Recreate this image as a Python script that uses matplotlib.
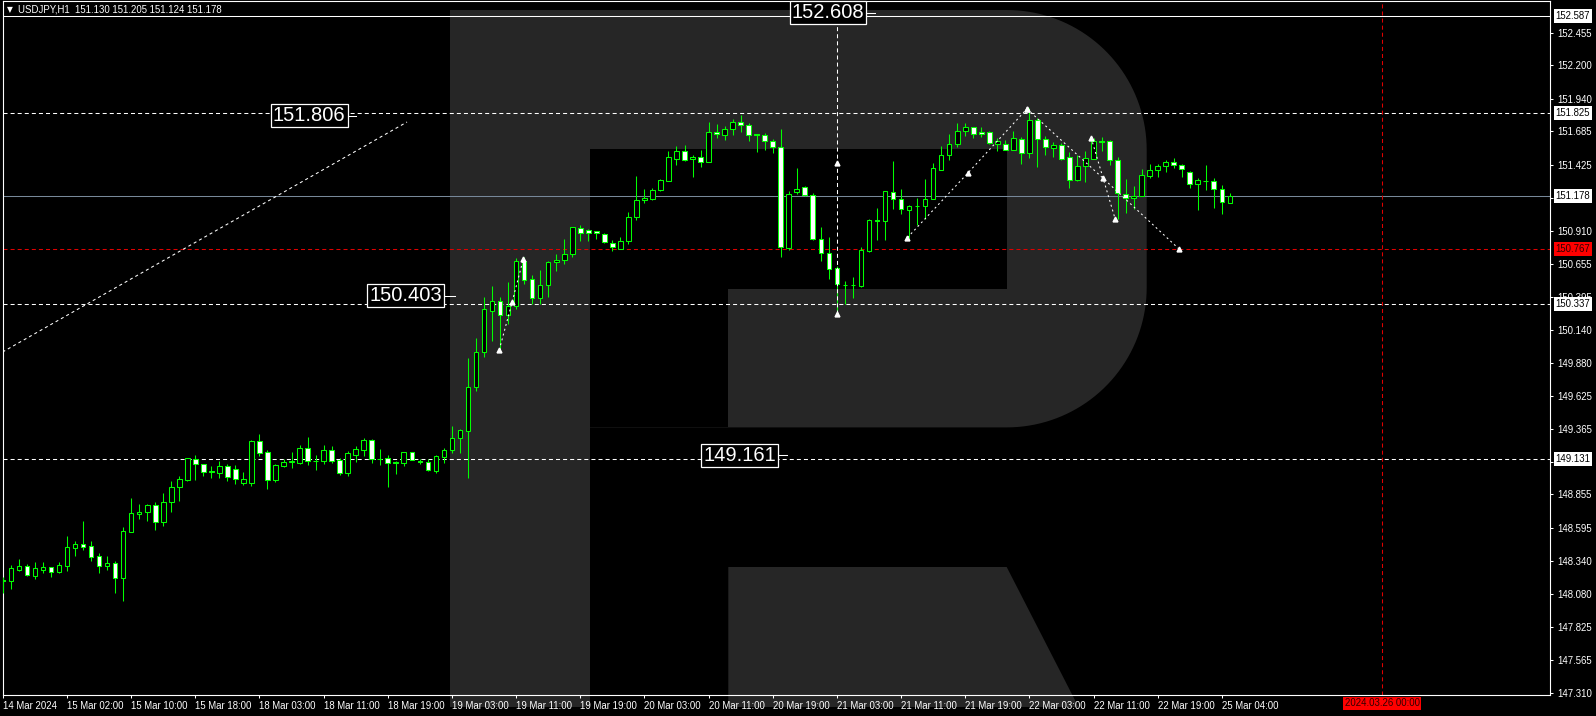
import numpy as np
import matplotlib
matplotlib.use('Agg')
import matplotlib.pyplot as plt
from matplotlib.patches import Polygon, Rectangle

plt.rcParams['lines.scale_dashes'] = False
plt.rcParams['font.family'] = ['Liberation Sans', 'DejaVu Sans']

# USDJPY H1 candles (bar 0 = 14 Mar 2024)
opens = [148.186, 148.183, 148.269, 148.298, 148.222, 148.269, 148.287, 148.253, 148.300, 148.440,
         148.466, 148.453, 148.376, 148.300, 148.321, 148.207, 148.565, 148.705, 148.721, 148.770,
         148.643, 148.794, 148.911, 148.970, 149.129, 149.090, 149.035, 149.025, 149.077, 149.051,
         148.947, 148.947, 149.269, 149.184, 148.965, 149.080, 149.106, 149.103, 149.215, 149.113,
         149.119, 149.199, 149.121, 149.025, 149.165, 149.204, 149.277, 149.132, 149.137, 149.108,
         149.103, 149.183, 149.113, 149.106, 149.035, 149.145, 149.204, 149.293, 149.352, 149.695,
         149.963, 150.288, 150.360, 150.251, 150.327, 150.672, 150.532, 150.384, 150.485, 150.665,
         150.680, 150.727, 150.932, 150.914, 150.911, 150.888, 150.818, 150.771, 150.833, 151.015,
         151.148, 151.161, 151.226, 151.301, 151.472, 151.530, 151.467, 151.483, 151.444, 151.678,
         151.660, 151.701, 151.756, 151.735, 151.662, 151.654, 151.610, 151.561, 150.779, 151.210,
         151.254, 151.187, 150.844, 150.735, 150.618, 150.490, 150.485, 150.483, 150.755, 150.992,
         150.989, 151.210, 151.161, 151.075, 151.106, 151.101, 151.155, 151.387, 151.498, 151.584,
         151.685, 151.717, 151.678, 151.678, 151.589, 151.584, 151.542, 151.626, 151.519, 151.774,
         151.626, 151.558, 151.576, 151.483, 151.303, 151.413, 151.467, 151.607, 151.607, 151.459,
         151.200, 151.163, 151.179, 151.340, 151.381, 151.413, 151.444, 151.420, 151.366, 151.272,
         151.301, 151.296, 151.239, 151.130]
highs = [148.214, 148.305, 148.352, 148.313, 148.329, 148.329, 148.287, 148.329, 148.531, 148.490,
         148.648, 148.492, 148.396, 148.376, 148.337, 148.601, 148.827, 148.781, 148.781, 148.796,
         148.867, 148.963, 148.996, 149.137, 149.163, 149.090, 149.077, 149.116, 149.092, 149.082,
         149.028, 149.280, 149.326, 149.202, 149.092, 149.129, 149.186, 149.238, 149.303, 149.160,
         149.241, 149.233, 149.137, 149.194, 149.233, 149.295, 149.287, 149.209, 149.160, 149.113,
         149.183, 149.189, 149.134, 149.129, 149.165, 149.215, 149.389, 149.363, 149.921, 150.075,
         150.394, 150.480, 150.397, 150.511, 150.696, 150.703, 150.566, 150.602, 150.678, 150.729,
         150.846, 150.942, 150.953, 150.927, 150.911, 150.891, 150.839, 150.862, 151.054, 151.337,
         151.236, 151.241, 151.317, 151.535, 151.571, 151.579, 151.501, 151.540, 151.758, 151.743,
         151.727, 151.782, 151.813, 151.748, 151.665, 151.675, 151.626, 151.701, 151.220, 151.397,
         151.259, 151.202, 150.940, 150.865, 150.639, 150.519, 150.550, 150.786, 151.002, 151.088,
         151.218, 151.454, 151.236, 151.111, 151.163, 151.314, 151.436, 151.571, 151.665, 151.750,
         151.750, 151.717, 151.722, 151.685, 151.634, 151.620, 151.688, 151.644, 151.865, 151.792,
         151.649, 151.605, 151.594, 151.524, 151.501, 151.532, 151.631, 151.639, 151.618, 151.485,
         151.314, 151.262, 151.392, 151.428, 151.428, 151.459, 151.475, 151.431, 151.374, 151.319,
         151.423, 151.324, 151.265, 151.205]
lows = [148.090, 148.118, 148.259, 148.222, 148.196, 148.243, 148.212, 148.243, 148.259, 148.378,
        148.425, 148.339, 148.246, 148.266, 148.090, 148.027, 148.565, 148.666, 148.648, 148.581,
        148.612, 148.721, 148.807, 148.960, 148.970, 149.002, 148.986, 148.986, 148.963, 148.939,
        148.931, 148.924, 149.155, 148.898, 148.955, 149.067, 149.061, 149.093, 149.085, 149.046,
        149.093, 149.100, 149.007, 148.999, 149.108, 149.158, 149.098, 149.085, 148.916, 149.017,
        149.080, 149.124, 149.093, 149.038, 149.025, 149.103, 149.181, 149.181, 148.986, 149.664,
        149.929, 150.054, 149.991, 150.184, 150.301, 150.493, 150.340, 150.340, 150.397, 150.600,
        150.651, 150.703, 150.833, 150.833, 150.849, 150.818, 150.755, 150.766, 150.807, 150.994,
        151.127, 151.150, 151.223, 151.301, 151.423, 151.454, 151.332, 151.410, 151.444, 151.636,
        151.621, 151.660, 151.683, 151.613, 151.527, 151.543, 151.519, 150.709, 150.761, 151.197,
        151.182, 150.839, 150.677, 150.535, 150.259, 150.337, 150.384, 150.475, 150.742, 150.838,
        150.838, 151.083, 151.044, 150.857, 150.958, 151.002, 151.155, 151.387, 151.465, 151.561,
        151.649, 151.636, 151.639, 151.587, 151.535, 151.537, 151.537, 151.431, 151.478, 151.410,
        151.501, 151.485, 151.465, 151.246, 151.298, 151.293, 151.467, 151.535, 151.423, 151.002,
        151.052, 151.078, 151.179, 151.324, 151.332, 151.371, 151.402, 151.332, 151.246, 151.072,
        151.228, 151.085, 151.041, 151.124]
closes = [148.183, 148.279, 148.295, 148.230, 148.279, 148.287, 148.253, 148.305, 148.446, 148.466,
          148.448, 148.370, 148.300, 148.321, 148.207, 148.570, 148.708, 148.718, 148.770, 148.643,
          148.796, 148.911, 148.973, 149.137, 149.090, 149.028, 149.033, 149.074, 148.994, 148.973,
          148.973, 149.272, 149.181, 148.965, 149.085, 149.106, 149.116, 149.215, 149.113, 149.119,
          149.199, 149.119, 149.025, 149.176, 149.207, 149.277, 149.129, 149.129, 149.098, 149.103,
          149.183, 149.126, 149.108, 149.043, 149.152, 149.199, 149.293, 149.358, 149.690, 149.963,
          150.298, 150.360, 150.251, 150.327, 150.672, 150.527, 150.384, 150.485, 150.665, 150.680,
          150.727, 150.937, 150.891, 150.893, 150.893, 150.820, 150.781, 150.833, 151.015, 151.148,
          151.166, 151.228, 151.306, 151.483, 151.530, 151.465, 151.483, 151.444, 151.678, 151.662,
          151.701, 151.756, 151.732, 151.660, 151.659, 151.608, 151.561, 150.781, 151.194, 151.233,
          151.187, 150.844, 150.735, 150.610, 150.493, 150.488, 150.490, 150.761, 150.992, 150.989,
          151.218, 151.161, 151.077, 151.101, 151.104, 151.155, 151.397, 151.498, 151.584, 151.685,
          151.717, 151.665, 151.662, 151.592, 151.613, 151.537, 151.631, 151.519, 151.774, 151.623,
          151.561, 151.576, 151.472, 151.303, 151.413, 151.475, 151.607, 151.605, 151.459, 151.205,
          151.166, 151.179, 151.342, 151.381, 151.415, 151.444, 151.420, 151.392, 151.272, 151.304,
          151.296, 151.239, 151.132, 151.178]

time_labels = ['14 Mar 2024', '15 Mar 02:00', '15 Mar 10:00', '15 Mar 18:00', '18 Mar 03:00',
               '18 Mar 11:00', '18 Mar 19:00', '19 Mar 03:00', '19 Mar 11:00', '19 Mar 19:00',
               '20 Mar 03:00', '20 Mar 11:00', '20 Mar 19:00', '21 Mar 03:00', '21 Mar 11:00',
               '21 Mar 19:00', '22 Mar 03:00', '22 Mar 11:00', '22 Mar 19:00', '25 Mar 04:00']
price_ticks = [152.455, 152.200, 151.940, 151.685, 151.425, 151.165, 150.910, 150.655, 150.395,
               150.140, 149.880, 149.625, 149.365, 149.110, 148.855, 148.595, 148.340, 148.080,
               147.825, 147.565, 147.310]
header = 'USDJPY,H1  151.130 151.205 151.124 151.178'

# horizontal levels
top_line = 152.587
resist = 151.825
last_price = 151.178
target = 150.767
support = 150.337
low_line = 149.131

# boxed price notes
notes = ['152.608', '151.806', '150.403', '149.161']

# forecast paths (bar index, price)
chan_x, chan_y = [-0.04, 50.4], [149.965, 151.758]
path_a_x, path_a_y = [61.9, 63.5, 64.9], [149.981, 150.353, 150.690]
path_b_x, path_b_y = [112.8, 120.3, 127.7], [150.857, 151.358, 151.860]
path_c_x, path_c_y = [127.7, 137.2, 146.7], [151.860, 151.319, 150.766]
path_d_x, path_d_y = [135.7, 138.7], [151.636, 151.002]
vert_bar, vert_y = 104, [150.259, 151.436, 152.608]
future_bar = 172
future_label = '2024.03.26 00:00'

GREEN = '#00ff00'
W, H = 1596, 716
SMALL = 6.9

fig = plt.figure(figsize=(W / 100, H / 100), dpi=100, facecolor='black')

# background with the faint "R" watermark, in pixel coordinates
bg = fig.add_axes([0, 0, 1, 1], zorder=0)
bg.set_xlim(0, W)
bg.set_ylim(H, 0)
bg.axis('off')
bg.set_facecolor('black')
wm = '#262626'
t1 = np.linspace(-np.pi / 2, 0, 40)
t2 = np.linspace(0, np.pi / 2, 40)
bowl = [(450.3, 10)]
bowl += list(zip(1006.7 + 140 * np.cos(t1), 150 + 140 * np.sin(t1)))
bowl += list(zip(1006.7 + 140 * np.cos(t2), 287.4 + 140 * np.sin(t2)))
bowl += [(450.3, 427.4)]
bg.add_patch(Polygon(bowl, closed=True, fc=wm, ec='none'))
bg.add_patch(Rectangle((450.3, 10), 139.2, 697, fc=wm, ec='none'))
bg.add_patch(Rectangle((589.5, 148.9), 417.2, 139.7, fc='black', ec='none'))
bg.add_patch(Rectangle((589.5, 288.6), 138.8, 138.8, fc='black', ec='none'))
bg.add_patch(Polygon([(728.3, 567), (1006.7, 567), (1078.5, 707), (728.3, 707)],
                     closed=True, fc=wm, ec='none'))

ax = fig.add_axes([2.5 / W, 21 / H, 1547.5 / W, 694 / H], zorder=1)
ax.patch.set_visible(False)
ax.set_xlim(-0.04, 192.92)
ax.set_ylim(147.292, 152.701)
for s in ax.spines.values():
    s.set_color('white')
    s.set_linewidth(0.8)

# candles
o = np.array(opens); h = np.array(highs); l = np.array(lows); c = np.array(closes)
idx = np.arange(len(o))
up = c >= o
ax.vlines(idx, l, h, color=GREEN, lw=0.75, zorder=3)
ax.bar(idx[up], (c - o)[up], bottom=o[up], width=0.58, color='black',
       edgecolor=GREEN, lw=0.75, zorder=4)
ax.bar(idx[~up], (c - o)[~up], bottom=o[~up], width=0.58, color='white',
       edgecolor=GREEN, lw=0.75, zorder=4)

# level lines
dash = (0, (2.9, 2.2))
ax.axhline(top_line, color='white', lw=0.75, zorder=2)
ax.axhline(resist, color='white', lw=0.75, ls=dash, zorder=2)
ax.axhline(last_price, color='#778899', lw=0.75, zorder=2)
ax.axhline(target, color='#e00000', lw=0.75, ls=dash, zorder=2)
ax.axhline(support, color='white', lw=0.75, ls=dash, zorder=2)
ax.axhline(low_line, color='white', lw=0.75, ls=dash, zorder=2)
ax.axvline(future_bar, color='#e00000', lw=0.75, ls=dash, zorder=2)

# forecast lines and arrow marks
dots = (0, (1.4, 2.2))
ax.plot(chan_x, chan_y, color='white', lw=0.75, ls=(0, (2.2, 2.2)), zorder=5)
for px, py in [(path_a_x, path_a_y), (path_b_x, path_b_y), (path_c_x, path_c_y),
               (path_d_x, path_d_y)]:
    ax.plot(px, py, color='white', lw=0.75, ls=dots, zorder=5)
    ax.plot(px, py, ls='none', marker='^', ms=3.5, color='white', zorder=6)
ax.plot([vert_bar, vert_bar], [vert_y[0], vert_y[-1]], color='white', lw=0.75, ls=dash, zorder=5)
ax.plot([vert_bar, vert_bar], vert_y[:2], ls='none', marker='^', ms=3.5, color='white', zorder=6)

# boxed notes with a short tail
note_pos = [(102.9, 107.5), (38.2, 42.8), (50.2, 55.1), (91.9, 96.5)]
for txt, (cx, rx) in zip(notes, note_pos):
    val = float(txt)
    ax.text(cx, val, txt, color='white', fontsize=14.5, ha='center', va='center',
            zorder=8, bbox=dict(boxstyle='square,pad=0.1', fc='black', ec='white', lw=0.9))
    ax.plot([rx, rx + 1.3], [val, val], color='white', lw=0.75, zorder=7)

# axes ticks
ax.set_xticks(np.arange(0, 8 * len(time_labels), 8))
ax.set_xticklabels(time_labels, ha='left')
ax.yaxis.tick_right()
ax.set_yticks(price_ticks)
ax.set_yticklabels([f'{v:.3f}' for v in price_ticks])
ax.tick_params(axis='both', colors='white', labelcolor='white', labelsize=SMALL,
               length=2.2, width=0.75, direction='out')
ax.tick_params(axis='x', pad=2)
ax.tick_params(axis='y', pad=2.8)

# price tags on the right axis
ytr = ax.get_yaxis_transform()
xt = (1555.5 - 2.5) / 1547.5
for v in [top_line, resist, last_price, support, low_line]:
    ax.text(xt, v, f'{v:.3f}', transform=ytr, color='black', fontsize=SMALL, ha='left',
            va='center', clip_on=False, zorder=9,
            bbox=dict(boxstyle='square,pad=0.2', fc='white', ec='none'))
ax.text(xt, target, f'{target:.3f}', transform=ytr, color='#300000', fontsize=SMALL, ha='left',
        va='center', clip_on=False, zorder=9,
        bbox=dict(boxstyle='square,pad=0.2', fc='#ff0000', ec='none'))

# future date tag
xtr = ax.get_xaxis_transform()
ax.text(future_bar, (12.5 - 21) / 694, future_label, transform=xtr, color='#300000',
        fontsize=SMALL, ha='center', va='center', clip_on=False, zorder=9,
        bbox=dict(boxstyle='square,pad=0.15', fc='#ff0000', ec='none'))

# header
fig.text(9.5 / W, 1 - 9.5 / H, '\u25bc', color='white', fontsize=5.5, ha='center',
         va='center', family=['DejaVu Sans'])
fig.text(18 / W, 1 - 9.5 / H, header, color='white', fontsize=SMALL, ha='left', va='center')

fig.savefig('out.png', dpi=100, facecolor='black')
